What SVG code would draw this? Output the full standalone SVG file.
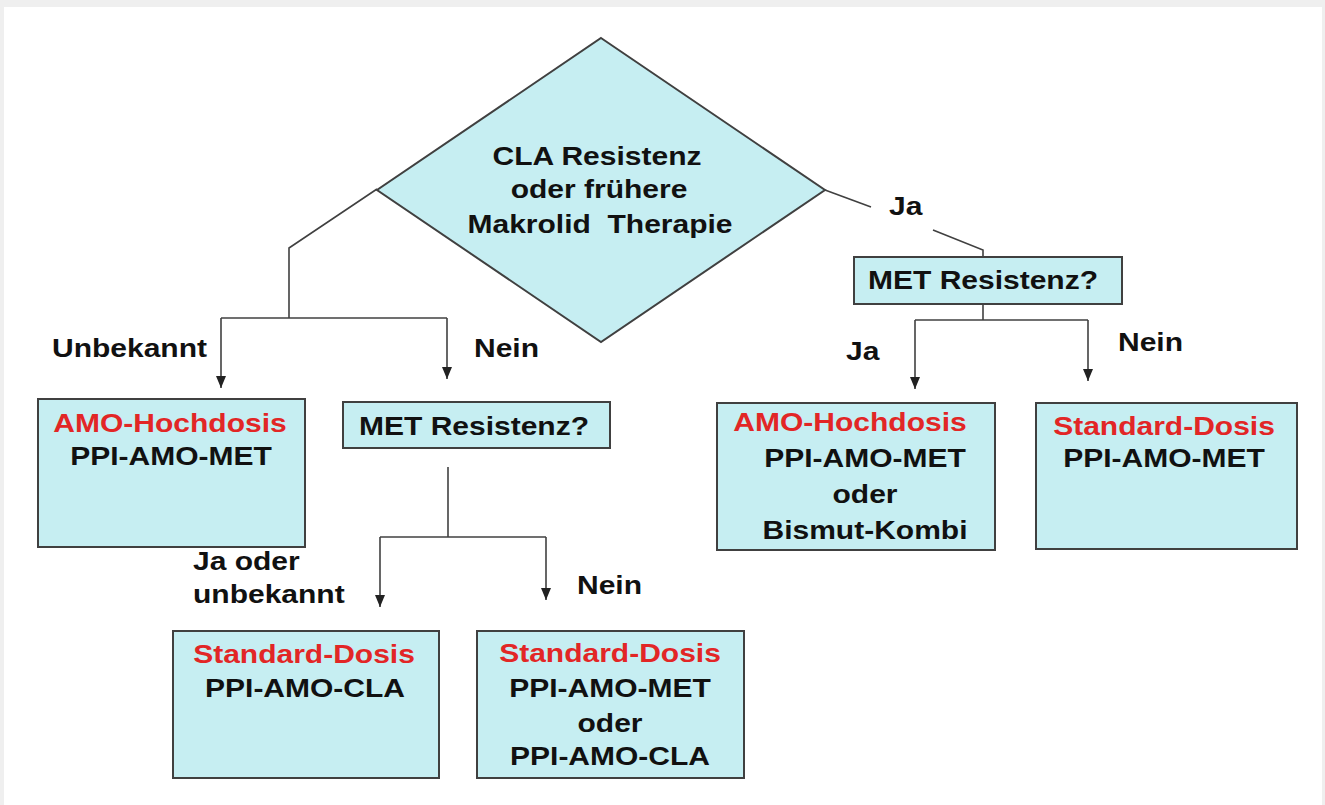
<svg xmlns="http://www.w3.org/2000/svg" width="1325" height="805" viewBox="0 0 1325 805">
<style>
.node{fill:#c6eef2;stroke:#404040;stroke-width:2}
.t{font-family:"Liberation Sans",Arial,sans-serif;font-weight:bold;font-size:25px;fill:#111}
.red{fill:#e22626}
.c{text-anchor:middle}
.conn{fill:none;stroke:#404040;stroke-width:1.6}
</style>
<defs>
<marker id="ah" viewBox="0 0 12 10" refX="12" refY="5" markerWidth="12" markerHeight="10" markerUnits="userSpaceOnUse" orient="auto">
<path d="M0,0 L12,5 L0,10 Z" fill="#222"/>
</marker>
</defs>
<rect x="0" y="0" width="1325" height="805" fill="#efefef"/>
<rect x="4" y="7" width="1318" height="798" fill="#ffffff"/>

<g id="connectors">
<path class="conn" d="M377,189 L289,248 L289,318"/>
<path class="conn" d="M221,318 L447,318"/>
<path class="conn" d="M221,318 L221,388" marker-end="url(#ah)"/>
<path class="conn" d="M447,318 L447,379" marker-end="url(#ah)"/>
<path class="conn" d="M825,190 L871,207"/>
<path class="conn" d="M933,230 L983,250 L983,257"/>
<path class="conn" d="M983,304 L983,320"/>
<path class="conn" d="M915,320 L1088,320"/>
<path class="conn" d="M915,320 L915,389" marker-end="url(#ah)"/>
<path class="conn" d="M1088,320 L1088,381" marker-end="url(#ah)"/>
<path class="conn" d="M448,467 L448,537"/>
<path class="conn" d="M380,537 L546,537"/>
<path class="conn" d="M380,537 L380,607" marker-end="url(#ah)"/>
<path class="conn" d="M546,537 L546,600" marker-end="url(#ah)"/>
</g>

<g id="labels">
<text class="t" transform="translate(52,357) scale(1.2,1)">Unbekannt</text>
<text class="t" transform="translate(474,357) scale(1.2,1)">Nein</text>
<text class="t" transform="translate(889,215) scale(1.2,1)">Ja</text>
<text class="t" transform="translate(846,360) scale(1.2,1)">Ja</text>
<text class="t" transform="translate(1118,351) scale(1.2,1)">Nein</text>
<text class="t" transform="translate(193,570) scale(1.2,1)">Ja oder</text>
<text class="t" transform="translate(193,603) scale(1.2,1)">unbekannt</text>
<text class="t" transform="translate(577,594) scale(1.2,1)">Nein</text>
</g>

<g id="decision">
<polygon class="node" points="601,38 825,190 601,342 377,190"/>
<text class="t c" transform="translate(597,165) scale(1.2,1)">CLA Resistenz</text>
<text class="t c" transform="translate(599,198) scale(1.2,1)">oder frühere</text>
<text class="t c" transform="translate(600,233) scale(1.2,1)" xml:space="preserve">Makrolid  Therapie</text>
</g>

<g id="met-right">
<rect class="node" x="854" y="257" width="268" height="47"/>
<text class="t c" transform="translate(983,289) scale(1.2,1)">MET Resistenz?</text>
</g>

<g id="amo-left">
<rect class="node" x="38" y="399" width="267" height="148"/>
<text class="t c red" transform="translate(170,432) scale(1.2,1)">AMO-Hochdosis</text>
<text class="t c" transform="translate(171,465) scale(1.2,1)">PPI-AMO-MET</text>
</g>

<g id="met-left">
<rect class="node" x="343" y="402" width="267" height="46"/>
<text class="t c" transform="translate(474,435) scale(1.2,1)">MET Resistenz?</text>
</g>

<g id="amo-right">
<rect class="node" x="717" y="403" width="278" height="147"/>
<text class="t c red" transform="translate(850,431) scale(1.2,1)">AMO-Hochdosis</text>
<text class="t c" transform="translate(865,467) scale(1.2,1)">PPI-AMO-MET</text>
<text class="t c" transform="translate(865,503) scale(1.2,1)">oder</text>
<text class="t c" transform="translate(865,539) scale(1.2,1)">Bismut-Kombi</text>
</g>

<g id="std-right">
<rect class="node" x="1036" y="403" width="261" height="146"/>
<text class="t c red" transform="translate(1164,435) scale(1.2,1)">Standard-Dosis</text>
<text class="t c" transform="translate(1164,467) scale(1.2,1)">PPI-AMO-MET</text>
</g>

<g id="std-cla">
<rect class="node" x="173" y="631" width="266" height="147"/>
<text class="t c red" transform="translate(304,663) scale(1.2,1)">Standard-Dosis</text>
<text class="t c" transform="translate(305,697) scale(1.2,1)">PPI-AMO-CLA</text>
</g>

<g id="std-met-cla">
<rect class="node" x="477" y="631" width="267" height="147"/>
<text class="t c red" transform="translate(610,662) scale(1.2,1)">Standard-Dosis</text>
<text class="t c" transform="translate(610,697) scale(1.2,1)">PPI-AMO-MET</text>
<text class="t c" transform="translate(610,732) scale(1.2,1)">oder</text>
<text class="t c" transform="translate(610,765) scale(1.2,1)">PPI-AMO-CLA</text>
</g>
</svg>
